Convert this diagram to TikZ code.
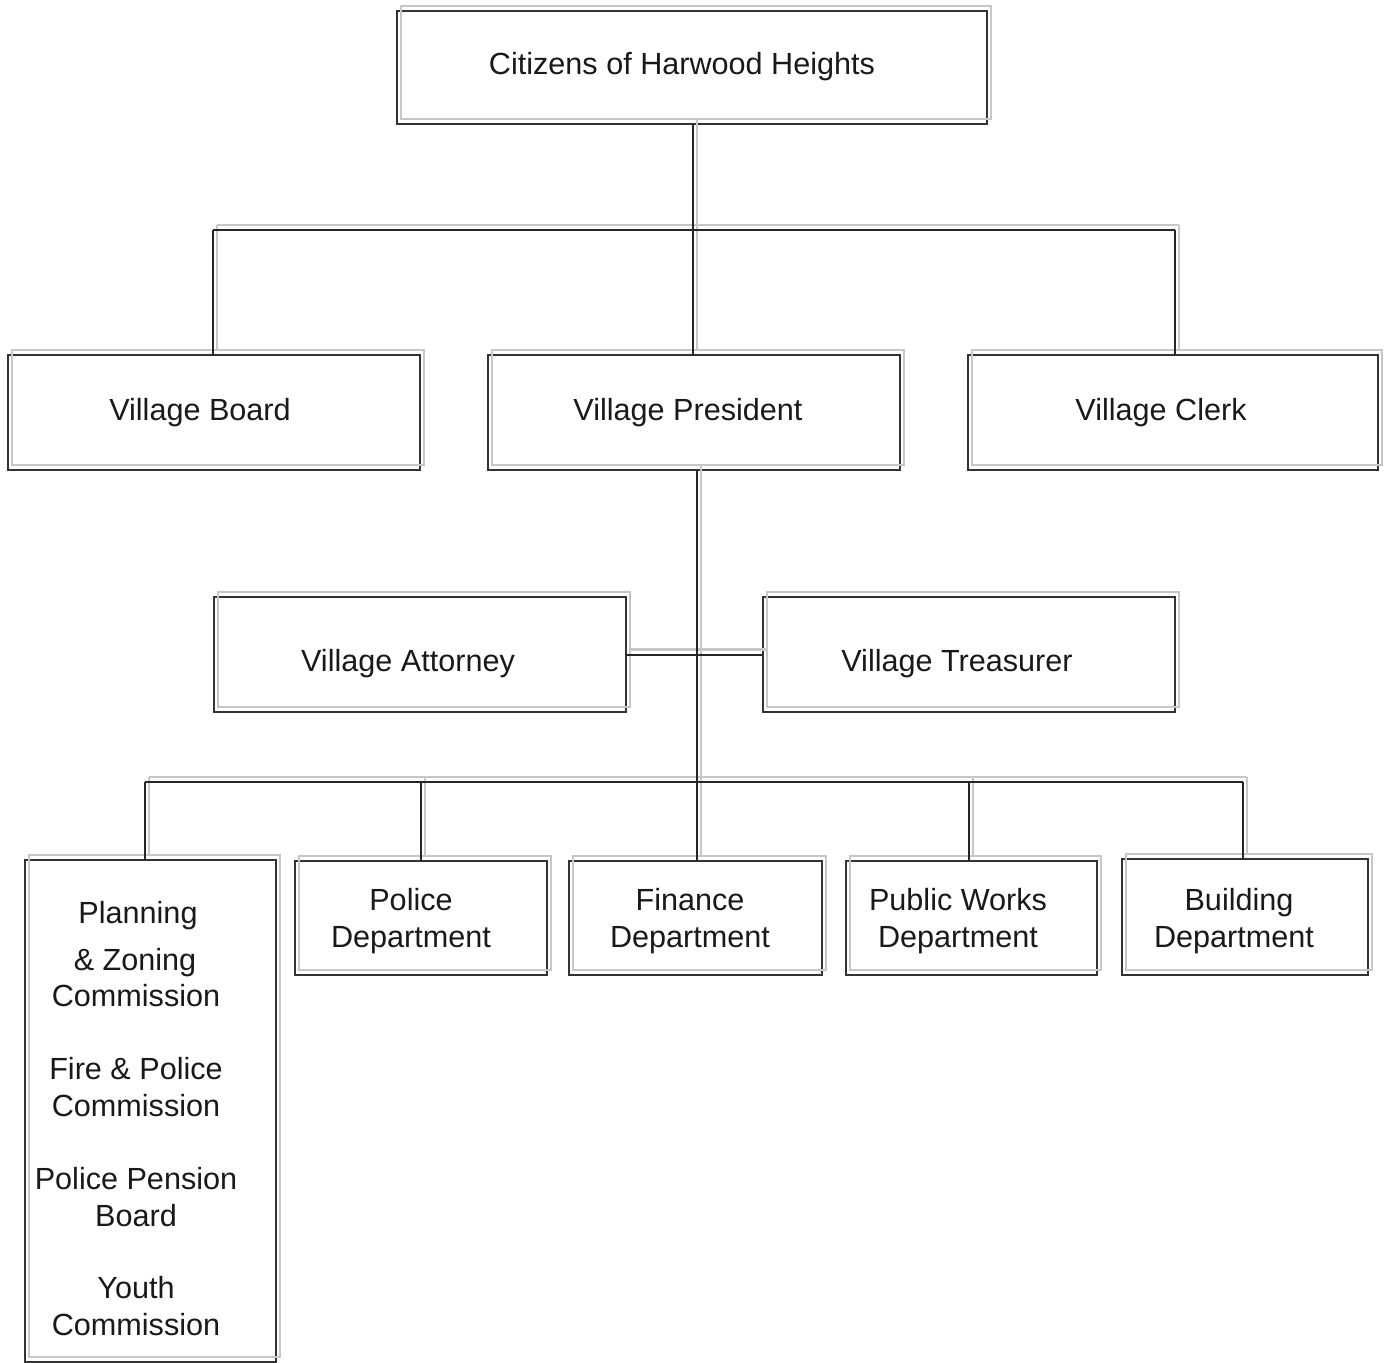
\documentclass[tikz,border=0pt]{standalone}
\usepackage{fontspec}
\setmainfont{Liberation Sans}
\begin{document}
\begin{tikzpicture}[x=0.5pt,y=-0.5pt,
  box/.style={draw=black!80,line width=0.75pt,inner sep=0pt,outer sep=0pt},
  shade/.style={draw=black!22,line width=1.1pt,transform canvas={shift={(4,-5)}}},
  ln/.style={draw=black!85,line width=1pt},
  txt/.style={anchor=base,inner sep=0pt,font=\fontsize{15.3pt}{18pt}\selectfont,text=black!90}]
\useasboundingbox (0,0) rectangle (1390,1363);
\newcommand\bx[5]{%
  \node[box,minimum width={(#4-#2)*0.5pt},minimum height={(#5-#3)*0.5pt}] (#1) at ({(#2+#4)/2},{(#3+#5)/2}) {};
  \draw[shade] (#1.south west) rectangle (#1.north east);}
% boxes
\bx{cit}{397}{11}{987}{124}
\bx{vb}{8}{355}{420}{470}
\bx{vp}{488}{355}{900}{470}
\bx{vc}{968}{355}{1378}{470}
\bx{va}{214}{597}{626}{712}
\bx{vt}{763}{597}{1175}{712}
\bx{pz}{25}{860}{276}{1362}
\bx{pd}{295}{861}{547}{975}
\bx{fd}{569}{861}{822}{975}
\bx{pw}{846}{861}{1097}{975}
\bx{bd}{1122}{859}{1368}{975}
% junctions
\coordinate (tl) at (213,230);
\coordinate (tm) at (693,230);
\coordinate (tr) at (1175,230);
\coordinate (bl) at (145,782);
\coordinate (bm) at (697,782);
\coordinate (br) at (1243,782);
\coordinate (b2) at (421,782);
\coordinate (b4) at (969,782);
\coordinate (vps) at (697,470);
\newcommand\conns[1]{%
  \draw[#1] (cit.south -| tm) -- (tm);
  \draw[#1] (tl) -- (tr);
  \draw[#1] (tl) -- (tl |- vb.north);
  \draw[#1] (tm) -- (tm |- vp.north);
  \draw[#1] (tr) -- (tr |- vc.north);
  \draw[#1] (vps) -- (bm);
  \draw[#1] (va.east) -- (vt.west);
  \draw[#1] (bl) -- (br);
  \draw[#1] (bl) -- (bl |- pz.north);
  \draw[#1] (b2) -- (b2 |- pd.north);
  \draw[#1] (bm) -- (bm |- fd.north);
  \draw[#1] (b4) -- (b4 |- pw.north);
  \draw[#1] (br) -- (br |- bd.north);}
\conns{shade}
\conns{ln}
% texts
\node[txt] (t-cit) at (682,75) {Citizens of Harwood Heights};
\node[txt] (t-vb) at (200,421) {Village Board};
\node[txt] (t-vp) at (688,421) {Village President};
\node[txt] (t-vc) at (1161,421) {Village Clerk};
\node[txt] (t-va) at (408,671) {Village Attorney};
\node[txt] (t-vt) at (957,671) {Village Treasurer};
\node[txt] (t-pd1) at (411,910) {Police};
\node[txt] (t-pd2) at (411,947) {Department};
\node[txt] (t-fd1) at (690,910) {Finance};
\node[txt] (t-fd2) at (690,947) {Department};
\node[txt] (t-pw1) at (958,910) {Public Works};
\node[txt] (t-pw2) at (958,947) {Department};
\node[txt] (t-bd1) at (1239,910) {Building};
\node[txt] (t-bd2) at (1234,947) {Department};
\node[txt] (t-pz1) at (138,923) {Planning};
\node[txt] (t-pz2) at (135,970) {\& Zoning};
\node[txt] (t-pz3) at (136,1006) {Commission};
\node[txt] (t-fp1) at (136,1079) {Fire \& Police};
\node[txt] (t-fp2) at (136,1116) {Commission};
\node[txt] (t-pp1) at (136,1189) {Police Pension};
\node[txt] (t-pp2) at (136,1226) {Board};
\node[txt] (t-yc1) at (136,1298) {Youth};
\node[txt] (t-yc2) at (136,1335) {Commission};
\end{tikzpicture}
\end{document}
